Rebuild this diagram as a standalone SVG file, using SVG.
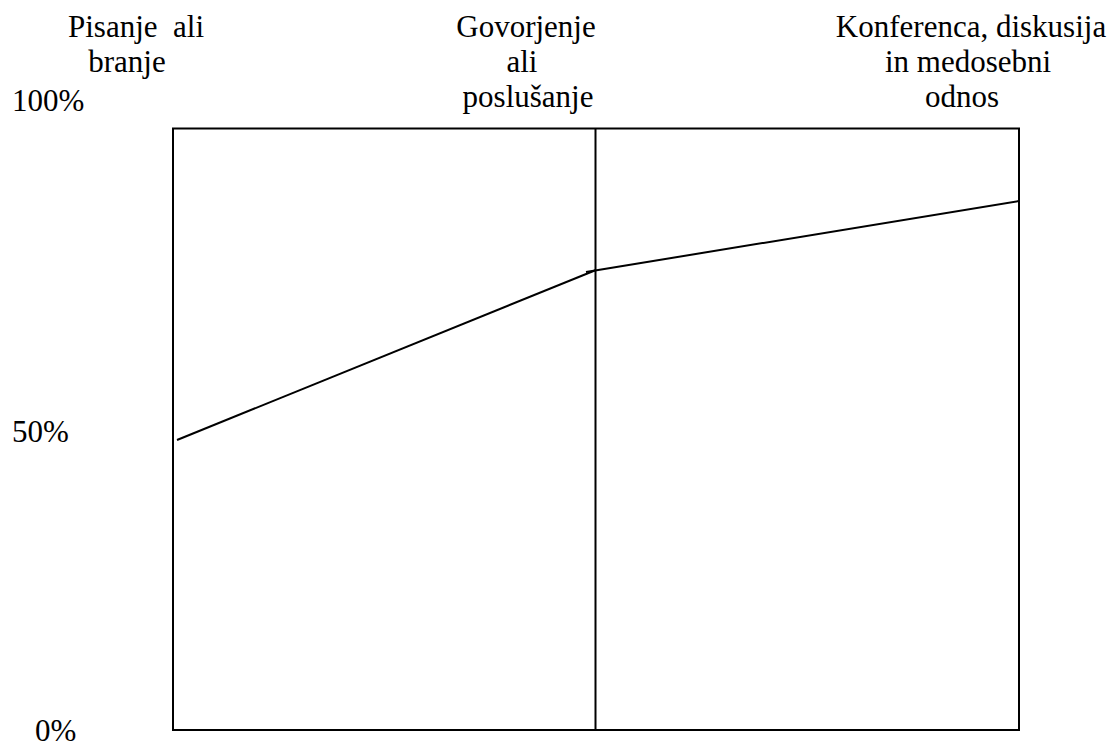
<svg xmlns="http://www.w3.org/2000/svg" width="1114" height="745" viewBox="0 0 1114 745">
<style>
text{font-family:'Liberation Serif',serif;font-size:31px;fill:#000}
.c{text-anchor:middle}
.ln{fill:none;stroke:#000;stroke-width:2}
</style>
<rect width="1114" height="745" fill="#fff"/>
<g id="frame">
<rect class="ln" x="173" y="128.5" width="846" height="601.5"/>
<line class="ln" x1="595.5" y1="128" x2="595.5" y2="731"/>
</g>
<g id="connectors">
<polyline class="ln" points="177,440 596,270"/>
<polyline class="ln" points="586,272 1019,201"/>
</g>
<g id="col1" font-family="Liberation Serif, serif">
<text class="c" x="136" y="37" xml:space="preserve">Pisanje  ali</text>
<text class="c" x="127" y="72">branje</text>
</g>
<g id="col2">
<text class="c" x="526" y="37">Govorjenje</text>
<text class="c" x="522" y="72">ali</text>
<text class="c" x="528" y="107">poslušanje</text>
</g>
<g id="col3">
<text class="c" x="971" y="37">Konferenca, diskusija</text>
<text class="c" x="968" y="72">in medosebni</text>
<text class="c" x="962" y="107">odnos</text>
</g>
<g id="yaxis">
<text x="12" y="111">100%</text>
<text x="12" y="442">50%</text>
<text x="35" y="741">0%</text>
</g>
</svg>
